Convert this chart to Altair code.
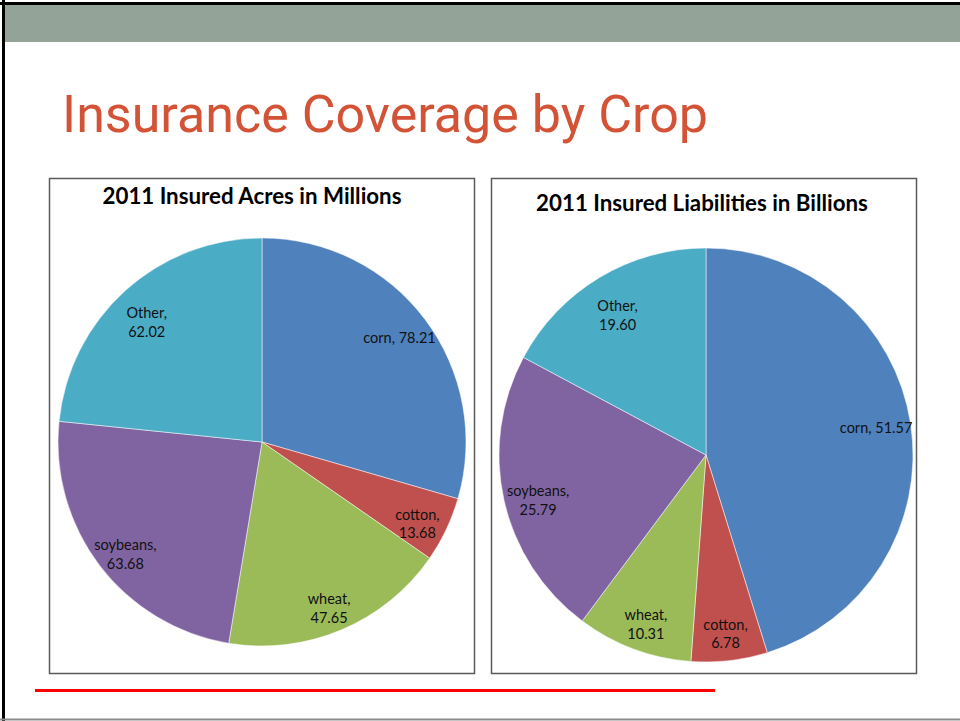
import altair as alt
import pandas as pd

crops = ["corn", "cotton", "wheat", "soybeans", "Other"]
acres = [78.21, 13.68, 47.65, 63.68, 62.02]
liabilities = [51.57, 6.78, 10.31, 25.79, 19.60]
acres_labels = ["corn, 78.21", "cotton,\n13.68", "wheat,\n47.65", "soybeans,\n63.68", "Other,\n62.02"]
liab_labels = ["corn, 51.57", "cotton,\n6.78", "wheat,\n10.31", "soybeans,\n25.79", "Other,\n19.60"]
colors = ["#4F81BD", "#C0504D", "#9BBB59", "#8064A2", "#4BACC6"]

slide_title = "Insurance Coverage by Crop"
left_title = "2011 Insured Acres in Millions"
right_title = "2011 Insured Liabilities in Billions"

one = alt.Data(values=[{"a": 1}])
color_scale = alt.Scale(domain=crops, range=colors)


def pie(values, labels, cx, cy, r, lr):
    df = pd.DataFrame({"crop": crops, "value": values, "label": labels,
                       "idx": list(range(len(crops)))})
    base = alt.Chart(df).encode(
        theta=alt.Theta("value:Q", stack=True),
        order=alt.Order("idx:Q"),
    )
    arcs = base.mark_arc(radius=r, stroke="white", strokeWidth=0.5).encode(
        color=alt.Color("crop:N", scale=color_scale, legend=None),
        x=alt.value(cx), y=alt.value(cy),
    )
    text = base.mark_text(radius=lr, lineBreak="\n", lineHeight=18.5, fontSize=14.5,
                          font="Lato", color="#111111", align="center",
                          baseline="middle").encode(
        text="label:N", x=alt.value(cx), y=alt.value(cy),
    )
    return alt.layer(arcs, text)


def rect(x, x2, y, y2, **kw):
    return alt.Chart(one).mark_rect(**kw).encode(
        x=alt.value(x), x2=alt.value(x2), y=alt.value(y), y2=alt.value(y2))


def rule(x, x2, y, y2, **kw):
    return alt.Chart(one).mark_rule(**kw).encode(
        x=alt.value(x), x2=alt.value(x2), y=alt.value(y), y2=alt.value(y2))


def label(txt, x, y, **kw):
    return alt.Chart(one).mark_text(text=txt, **kw).encode(x=alt.value(x), y=alt.value(y))


band = rect(3, 960, 5, 42, color="#93A397")
top_line = rule(0, 960, 3.5, 3.5, color="black", strokeWidth=3)
left_line = rule(3.5, 3.5, 0, 721, color="black", strokeWidth=3)
bottom_line = rule(0, 960, 719.5, 719.5, color="#8c8c8c", strokeWidth=2)
red_line = rule(35, 715, 690.5, 690.5, color="#FF0000", strokeWidth=3)

panel_l = rect(49.5, 474.5, 178.5, 673.5, fill="white", stroke="#5a5a5a", strokeWidth=1.5)
panel_r = rect(491.5, 916.5, 178.5, 673.5, fill="white", stroke="#5a5a5a", strokeWidth=1.5)

title = label(slide_title, 62, 132, fontSize=52, font="Roboto", color="#D35336",
              align="left", baseline="alphabetic")
t_l = label(left_title, 252, 204, fontSize=22.3, font="Lato", fontWeight="bold", color="black",
            align="center", baseline="alphabetic")
t_r = label(right_title, 702, 211, fontSize=22.3, font="Lato", fontWeight="bold", color="black",
            align="center", baseline="alphabetic")

pie_l = pie(acres, acres_labels, 262, 442, 204, 172)
pie_r = pie(liabilities, liab_labels, 706, 455, 207, 172)

chart = alt.layer(
    band, top_line, left_line, bottom_line, red_line, panel_l, panel_r,
    title, t_l, t_r, pie_l, pie_r,
).resolve_scale(theta="independent").properties(
    width=960, height=721, padding=0, autosize=alt.AutoSizeParams(type="none"),
    background="white",
).configure_view(stroke=None)

chart.save("out.html", embed_options={"renderer": "svg", "actions": False})
